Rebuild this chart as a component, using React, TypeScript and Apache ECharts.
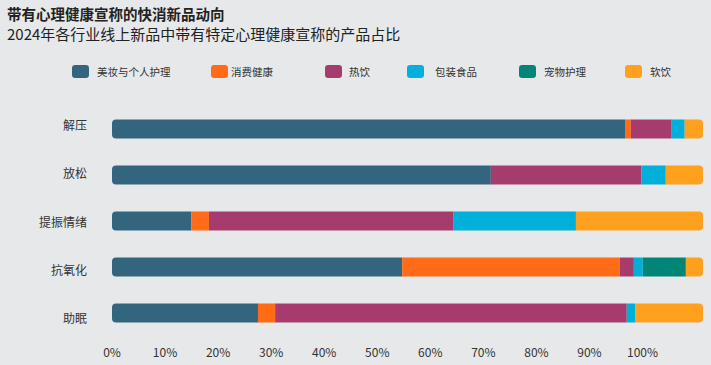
import React, { useEffect, useRef } from "react";
import * as echarts from "echarts";

const categories = ["解压", "放松", "提振情绪", "抗氧化", "助眠"];
const seriesNames = ["美妆与个人护理", "消费健康", "热饮", "包装食品", "宠物护理", "软饮"];
const colors = ["#33657f", "#ff6b17", "#a63c6e", "#00b0da", "#008577", "#ffa01f"];
// share of each bar (%) per category, in category order
const beauty = [86.9, 64.1, 13.4, 49.1, 24.7];
const consumerHealth = [0.9, 0, 3.0, 36.8, 2.9];
const hotDrinks = [6.9, 25.5, 41.4, 2.4, 59.5];
const packagedFood = [2.2, 4.1, 20.7, 1.5, 1.4];
const petCare = [0, 0, 0, 7.3, 0];
const softDrinks = [3.1, 6.3, 21.5, 2.9, 11.5];
const tickLabels = ["0%", "10%", "20%", "30%", "40%", "50%", "60%", "70%", "80%", "90%", "100%"];

const seriesData = [beauty, consumerHealth, hotDrinks, packagedFood, petCare, softDrinks];
const legendLefts = [72, 211, 325, 407, 519, 625];
const legendGaps = [8, 3, 7, 11, 8, 8];

export default function App() {
  const ref = useRef<HTMLDivElement>(null);
  useEffect(() => {
    if (!ref.current) return;
    const chart = echarts.init(ref.current, null, { renderer: "svg" });
    const font = "'Noto Sans CJK SC', 'Noto Sans', sans-serif";
    const series = seriesData.map((arr, si) => ({
      name: seriesNames[si],
      type: "bar",
      stack: "total",
      xAxisIndex: 0,
      yAxisIndex: 0,
      barWidth: 19,
      itemStyle: { color: colors[si] },
      data: arr.map((v) => ({
        value: v,
        itemStyle: {
          borderRadius: si === 0 ? [4, 0, 0, 4] : si === seriesData.length - 1 ? [0, 4, 4, 0] : 0,
        },
      })),
    }));
    chart.setOption({
      animation: false,
      backgroundColor: "#e7e8ea",
      color: colors,
      textStyle: { fontFamily: font },
      title: [
        {
          text: "带有心理健康宣称的快消新品动向",
          left: 7,
          top: 6,
          padding: 0,
          textStyle: { fontSize: 14.5, fontWeight: "bold", color: "#222", fontFamily: font },
        },
        {
          text: "2024年各行业线上新品中带有特定心理健康宣称的产品占比",
          left: 7,
          top: 26,
          padding: 0,
          textStyle: { fontSize: 15, fontWeight: "normal", color: "#222", fontFamily: font },
        },
      ],
      legend: seriesNames.map((n, i) => ({
        data: [n],
        left: legendLefts[i],
        top: 65,
        padding: 0,
        itemWidth: 17,
        itemHeight: 13,
        itemGap: 0,
        icon: "roundRect",
        selectedMode: false,
        textStyle: { fontSize: 10.5, color: "#333", padding: [0, 0, 0, legendGaps[i] - 5] },
      })),
      grid: [
        { left: 112, right: 8, top: 106, bottom: 29, containLabel: false },
        { left: 112, right: 8, top: 100, bottom: 23, containLabel: false },
      ],
      xAxis: [
        { type: "value", gridIndex: 0, min: 0, max: 100, show: false },
        {
          type: "value",
          gridIndex: 0,
          position: "bottom",
          min: 0,
          max: 111.4,
          interval: 10,
          axisLine: { show: false },
          axisTick: { show: false },
          splitLine: { show: false },
          axisLabel: {
            margin: 9,
            fontSize: 12,
            color: "#333",
            formatter: (v: number) => {
              const idx = Math.round(v / 10);
              return idx >= 0 && idx < tickLabels.length ? tickLabels[idx] : "";
            },
          },
        },
        { type: "value", gridIndex: 1, min: 0, max: 100, show: false },
      ],
      yAxis: [
        {
          type: "category",
          gridIndex: 0,
          data: categories,
          inverse: true,
          axisLine: { show: false },
          axisTick: { show: false },
          axisLabel: { show: false },
        },
        {
          type: "category",
          gridIndex: 1,
          data: categories,
          inverse: true,
          axisLine: { show: false },
          axisTick: { show: false },
          axisLabel: { margin: 25, fontSize: 12, color: "#333" },
        },
      ],
      series,
    });
    return () => chart.dispose();
  }, []);
  return (
    <div
      ref={ref}
      style={{ width: 711, height: 365, position: "absolute", left: 0, top: 0 }}
    />
  );
}
